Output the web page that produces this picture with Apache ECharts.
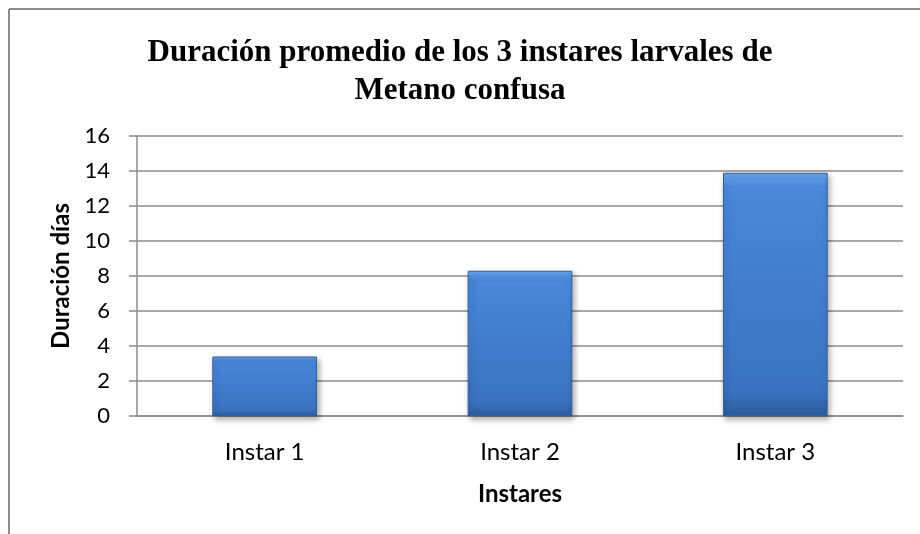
<!DOCTYPE html>
<html>
<head>
<meta charset="utf-8">
<script src="https://cdn.jsdelivr.net/npm/echarts@6/dist/echarts.min.js"></script>
<style>
  html, body { margin: 0; padding: 0; background: #fff; }
  #chart { width: 920px; height: 534px; }
</style>
</head>
<body>
<div id="chart"></div>
<script>
var categories = ['Instar 1', 'Instar 2', 'Instar 3'];
var duracion = [3.4, 8.3, 13.9];
var yTicks = [0, 2, 4, 6, 8, 10, 12, 14, 16];

var myChart = echarts.init(document.getElementById('chart'));

var labelFont = 'Lato, "Open Sans", sans-serif';

myChart.setOption({
    animation: false,
    title: {
        text: 'Duración promedio de los 3 instares larvales de\nMetano confusa',
        left: 'center',
        top: 29,
        textStyle: {
            fontFamily: '"Liberation Serif", "Times New Roman", serif',
            fontWeight: 'bold',
            fontSize: 31,
            lineHeight: 38,
            color: '#000'
        }
    },
    graphic: [
        { type: 'line', shape: { x1: 9, y1: 9, x2: 920, y2: 9 }, style: { stroke: '#8c8c8c', lineWidth: 2 } },
        { type: 'line', shape: { x1: 9, y1: 9, x2: 9, y2: 534 }, style: { stroke: '#8c8c8c', lineWidth: 2 } }
    ],
    grid: {
        left: 137,
        right: 17,
        top: 136,
        bottom: 118
    },
    xAxis: {
        type: 'category',
        data: categories,
        name: 'Instares',
        nameLocation: 'middle',
        nameGap: 66,
        nameTextStyle: { fontFamily: labelFont, fontWeight: 'bold', fontSize: 24, color: '#000' },
        axisLine: { lineStyle: { color: '#8c8c8c', width: 1.5 } },
        axisTick: { show: false },
        axisLabel: { fontFamily: labelFont, fontSize: 24, color: '#000', margin: 24 }
    },
    yAxis: {
        type: 'value',
        min: yTicks[0],
        max: yTicks[yTicks.length - 1],
        interval: 2,
        name: 'Duración días',
        nameLocation: 'middle',
        nameGap: 62,
        nameTextStyle: { fontFamily: labelFont, fontWeight: 'bold', fontSize: 24, color: '#000' },
        axisLine: { show: true, lineStyle: { color: '#8c8c8c', width: 1.5 } },
        axisTick: { show: true, length: 8, lineStyle: { color: '#8c8c8c', width: 1.5 } },
        axisLabel: { fontFamily: labelFont, fontSize: 22, color: '#000', margin: 27 },
        splitLine: { lineStyle: { color: '#8c8c8c', width: 1.5 } }
    },
    series: [{
        type: 'bar',
        data: duracion,
        barWidth: '41%',
        itemStyle: {
            color: new echarts.graphic.LinearGradient(0, 0, 0, 1, [
                { offset: 0, color: '#6aa6f0' },
                { offset: 0.06, color: '#4a88da' },
                { offset: 0.9, color: '#3a72c0' },
                { offset: 1, color: '#2d5c9e' }
            ]),
            borderColor: '#2f5f9f',
            borderWidth: 1,
            shadowColor: 'rgba(0,0,0,0.35)',
            shadowBlur: 6,
            shadowOffsetX: 2,
            shadowOffsetY: 3
        }
    }]
});
</script>
</body>
</html>
